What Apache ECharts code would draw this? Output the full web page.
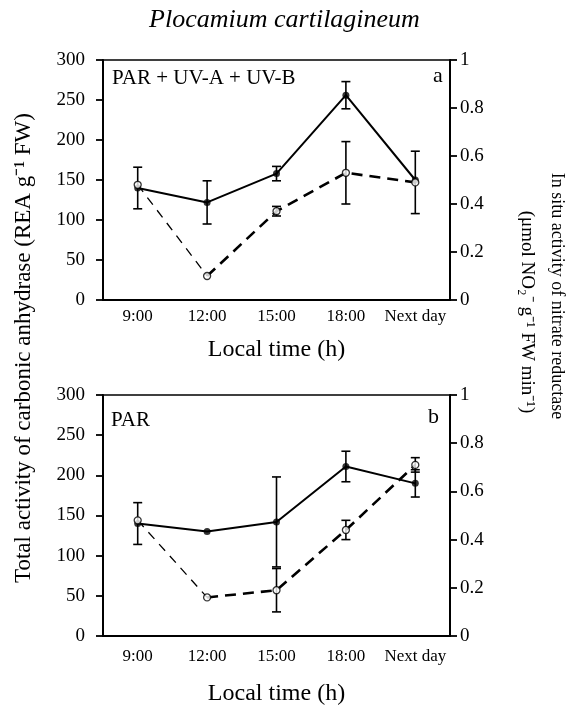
<!DOCTYPE html>
<html><head><meta charset="utf-8">
<script src="https://cdn.jsdelivr.net/npm/echarts@6/dist/echarts.min.js"></script>
<style>html,body{margin:0;padding:0;background:#fff}#c{width:569px;height:707px}</style>
</head><body><div id="c"></div>
<script>
const categories = ['9:00', '12:00', '15:00', '18:00', 'Next day'];
const leftTicks = [0, 50, 100, 150, 200, 250, 300];
const rightTicks = [0, 0.2, 0.4, 0.6, 0.8, 1];
// Panel a: PAR + UV-A + UV-B
const caA = [140, 122, 158, 256, 150];
const caErrA = [26, 27, 9, 17, null];
const nrA = [0.48, 0.10, 0.37, 0.53, 0.49];
const nrErrA = [null, null, 0.02, 0.13, 0.13];
// Panel b: PAR
const caB = [140, 130, 142, 211, 190];
const caErrB = [26, null, 56, 19, 17];
const nrB = [0.48, 0.16, 0.19, 0.44, 0.71];
const nrErrB = [null, null, 0.09, 0.04, 0.03];

const FONT = 'Liberation Serif';
const chart = echarts.init(document.getElementById('c'), null, {renderer: 'canvas'});

function errSeries(vals, errs, xi, yi) {
  const data = [];
  vals.forEach((v, i) => { if (errs[i] != null) data.push([i, v - errs[i], v + errs[i]]); });
  return {
    type: 'custom', xAxisIndex: xi, yAxisIndex: yi, z: 5,
    renderItem: function (params, api) {
      const lo = api.coord([api.value(0), api.value(1)]);
      const hi = api.coord([api.value(0), api.value(2)]);
      const w = 4.5;
      const st = {stroke: '#000', lineWidth: 1.6};
      return {type: 'group', children: [
        {type: 'line', shape: {x1: lo[0], y1: lo[1], x2: hi[0], y2: hi[1]}, style: st},
        {type: 'line', shape: {x1: lo[0] - w, y1: lo[1], x2: lo[0] + w, y2: lo[1]}, style: st},
        {type: 'line', shape: {x1: hi[0] - w, y1: hi[1], x2: hi[0] + w, y2: hi[1]}, style: st}
      ]};
    },
    encode: {x: 0, y: [1, 2]},
    data: data
  };
}

function panelSeries(ca, caErr, nr, nrErr, xi, yl, yr) {
  const thin = nr.map((v, i) => i <= 1 ? v : '-');
  const thick = nr.map((v, i) => i >= 1 ? v : '-');
  return [
    {type: 'line', xAxisIndex: xi, yAxisIndex: yl, data: ca, showSymbol: false,
     lineStyle: {color: '#000', width: 2}, z: 3, silent: true},
    {type: 'line', xAxisIndex: xi, yAxisIndex: yr, data: thin, showSymbol: false,
     lineStyle: {color: '#000', width: 1.3, type: [9, 7]}, z: 3, silent: true},
    {type: 'line', xAxisIndex: xi, yAxisIndex: yr, data: thick, showSymbol: false,
     lineStyle: {color: '#000', width: 2.6, type: [11, 7]}, z: 3, silent: true},
    errSeries(ca, caErr, xi, yl),
    errSeries(nr, nrErr, xi, yr),
    {type: 'scatter', xAxisIndex: xi, yAxisIndex: yl, data: ca, symbol: 'circle', symbolSize: 7,
     itemStyle: {color: '#000'}, z: 6, silent: true},
    {type: 'scatter', xAxisIndex: xi, yAxisIndex: yr, data: nr, symbol: 'circle', symbolSize: 7,
     itemStyle: {color: '#fff', borderColor: '#000', borderWidth: 1.3}, z: 7, silent: true}
  ];
}

function xAxis(gi, labelMargin, nameGap) {
  return {
    type: 'category', gridIndex: gi, data: categories, boundaryGap: true,
    axisLine: {lineStyle: {color: '#000', width: 2}},
    axisTick: {inside: false, length: 7, lineStyle: {color: '#000', width: 1.8}},
    axisLabel: {color: '#000', fontFamily: FONT, fontSize: 17, margin: labelMargin, interval: 0},
    name: 'Local time (h)', nameLocation: 'middle', nameGap: nameGap,
    nameTextStyle: {color: '#000', fontFamily: FONT, fontSize: 24, verticalAlign: 'top'}
  };
}
function yLeft(gi) {
  return {
    type: 'value', gridIndex: gi, position: 'left', min: leftTicks[0], max: leftTicks[leftTicks.length - 1], interval: 50,
    axisLine: {show: true, lineStyle: {color: '#000', width: 2}},
    axisTick: {show: true, length: 7, lineStyle: {color: '#000', width: 1.8}},
    axisLabel: {color: '#000', fontFamily: FONT, fontSize: 19, margin: 18},
    splitLine: {show: false}
  };
}
function yRight(gi) {
  return {
    type: 'value', gridIndex: gi, position: 'right', min: rightTicks[0], max: rightTicks[rightTicks.length - 1], interval: 0.2,
    axisLine: {show: true, lineStyle: {color: '#000', width: 2}},
    axisTick: {show: true, length: 7, lineStyle: {color: '#000', width: 1.8}},
    axisLabel: {color: '#000', fontFamily: FONT, fontSize: 19, margin: 10,
      formatter: v => (v === 0 || v === 1) ? String(v) : v.toFixed(1)},
    splitLine: {show: false}
  };
}

chart.setOption({
  animation: false,
  backgroundColor: '#fff',
  title: {text: 'Plocamium cartilagineum', left: 'center', top: 2,
    textStyle: {fontFamily: FONT, fontStyle: 'italic', fontWeight: 'normal', fontSize: 26, color: '#000'}},
  grid: [
    {left: 103, right: 119, top: 60, height: 240, show: true, borderColor: '#000', borderWidth: 1.5},
    {left: 103, right: 119, top: 395, height: 242, show: true, borderColor: '#000', borderWidth: 1.5}
  ],
  xAxis: [xAxis(0, 8, 38), xAxis(1, 12, 46)],
  yAxis: [yLeft(0), yRight(0), yLeft(1), yRight(1)],
  series: [].concat(
    panelSeries(caA, caErrA, nrA, nrErrA, 0, 0, 1),
    panelSeries(caB, caErrB, nrB, nrErrB, 1, 2, 3)
  ),
  graphic: [
    {type: 'text', left: 112, top: 68, style: {text: 'PAR + UV-A + UV-B', font: '21px "Liberation Serif"', fill: '#000'}},
    {type: 'text', left: 433, top: 65, style: {text: 'a', font: '22px "Liberation Serif"', fill: '#000'}},
    {type: 'text', left: 111, top: 410, style: {text: 'PAR', font: '21px "Liberation Serif"', fill: '#000'}},
    {type: 'text', left: 428, top: 406, style: {text: 'b', font: '22px "Liberation Serif"', fill: '#000'}},
    {type: 'text', x: 24, y: 348, rotation: Math.PI / 2,
     style: {text: 'Total activity of carbonic anhydrase (REA g⁻¹ FW)', font: '23px "Liberation Serif"', fill: '#000',
       align: 'center', verticalAlign: 'middle'}},
    {type: 'text', x: 557, y: 296, rotation: -Math.PI / 2,
     style: {text: 'In situ activity of nitrate reductase', font: '18px "Liberation Serif"', fill: '#000',
       align: 'center', verticalAlign: 'middle'}},
    {type: 'text', x: 527, y: 312, rotation: -Math.PI / 2,
     style: {text: '(μmol NO₂⁻ g⁻¹ FW min⁻¹)', font: '19px "Liberation Serif"', fill: '#000',
       align: 'center', verticalAlign: 'middle'}}
  ]
});
</script></body></html>
